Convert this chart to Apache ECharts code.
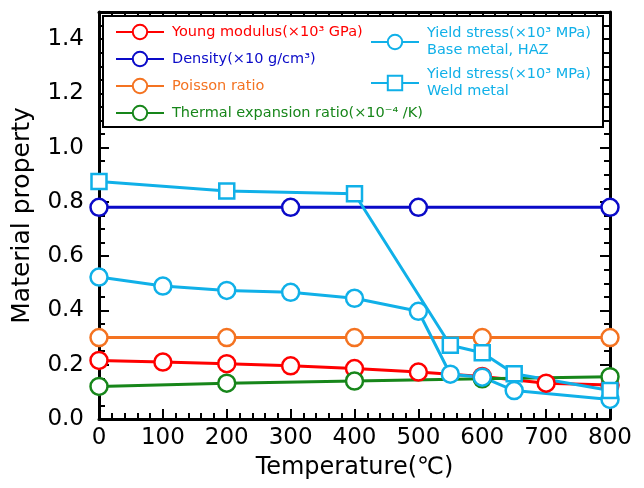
<!DOCTYPE html>
<html>
<head>
<meta charset="utf-8">
<script src="https://cdn.jsdelivr.net/npm/echarts@6/dist/echarts.min.js"></script>
<style>
  html, body { margin: 0; padding: 0; background: #fff; }
  #main { width: 644px; height: 488px; }
</style>
</head>
<body>
<div id="main"></div>
<script>
var myChart = echarts.init(document.getElementById('main'));

var FONT = '"DejaVu Sans", "Noto Sans CJK JP", sans-serif';

// temperatures (deg C) and values
var youngT = [0, 100, 200, 300, 400, 500, 600, 700, 800];
var youngV = [0.216, 0.21, 0.204, 0.196, 0.186, 0.173, 0.157, 0.132, 0.125];

var densityT = [0, 300, 500, 800];
var densityV = [0.78, 0.78, 0.78, 0.78];

var poissonT = [0, 200, 400, 600, 800];
var poissonV = [0.30, 0.30, 0.30, 0.30, 0.30];

var thermalT = [0, 200, 400, 600, 800];
var thermalV = [0.12, 0.132, 0.14, 0.148, 0.156];

var baseT = [0, 100, 200, 300, 400, 500, 550, 600, 650, 800];
var baseV = [0.523, 0.49, 0.474, 0.467, 0.445, 0.397, 0.165, 0.154, 0.105, 0.072];

var weldT = [0, 200, 400, 550, 600, 650, 800];
var weldV = [0.875, 0.84, 0.83, 0.272, 0.244, 0.167, 0.105];

var names = [
    'Young modulus(×10³ GPa)',
    'Density(×10 g/cm³)',
    'Poisson ratio',
    'Thermal expansion ratio(×10⁻⁴ /K)',
    'Yield stress(×10³ MPa)\nBase metal, HAZ',
    'Yield stress(×10³ MPa)\nWeld metal'
];
var colors = ['#ff0000', '#0a0ac8', '#f47321', '#17861a', '#10b0e8', '#10b0e8'];

function pairs(xs, ys) {
    return xs.map(function (x, i) { return [x, ys[i]]; });
}

function makeSeries(i, xs, ys, symbol, size) {
    return {
        name: names[i],
        type: 'line',
        data: pairs(xs, ys),
        symbol: symbol,
        symbolSize: size,
        showAllSymbol: true,
        color: colors[i],
        lineStyle: { width: 3, color: colors[i] },
        itemStyle: { color: '#fff', borderColor: colors[i], borderWidth: 2.5 },
        emphasis: { disabled: true },
        animation: false
    };
}

function axisCommon(split) {
    return {
        axisLine: { show: true, onZero: false, lineStyle: { color: '#000', width: 3 } },
        axisTick: { show: true, inside: true, length: 10, lineStyle: { color: '#000', width: 2 } },
        minorTick: { show: true, splitNumber: split, length: 6, lineStyle: { color: '#000', width: 2 } },
        splitLine: { show: false },
        minorSplitLine: { show: false }
    };
}

var xBottom = Object.assign(axisCommon(5), {
    type: 'value', position: 'bottom', min: 0, max: 800, interval: 100,
    name: 'Temperature(℃)', nameLocation: 'middle', nameGap: 37,
    nameTextStyle: { fontSize: 24, color: '#000', fontFamily: FONT },
    axisLabel: { fontSize: 23, color: '#000', margin: 8, fontFamily: FONT }
});

var xTop = Object.assign(axisCommon(5), {
    type: 'value', position: 'top', min: 0, max: 800, interval: 100,
    axisLabel: { show: false }
});

var yLeft = Object.assign(axisCommon(4), {
    type: 'value', position: 'left', min: 0, max: 1.5, interval: 0.2,
    name: 'Material property', nameLocation: 'middle', nameGap: 64,
    nameTextStyle: { fontSize: 25, color: '#000', fontFamily: FONT },
    axisLabel: {
        fontSize: 23, color: '#000', margin: 15, fontFamily: FONT, showMaxLabel: false,
        formatter: function (v) { return v.toFixed(1); }
    }
});

var yRight = Object.assign(axisCommon(4), {
    type: 'value', position: 'right', min: 0, max: 1.5, interval: 0.2,
    axisLabel: { show: false }
});

function legendItems(idx) {
    return idx.map(function (i) {
        return { name: names[i], textStyle: { color: colors[i] } };
    });
}

var option = {
    backgroundColor: '#fff',
    animation: false,
    grid: { left: 99, right: 34, top: 12, bottom: 69 },
    xAxis: [xBottom, xTop],
    yAxis: [yLeft, yRight],
    graphic: [{
        type: 'rect',
        shape: { x: 103, y: 16, width: 500, height: 111 },
        style: { fill: '#fff', stroke: '#000', lineWidth: 2 },
        z: 10
    }],
    legend: [{
        orient: 'vertical', left: 110, top: 18,
        itemWidth: 48, itemHeight: 18, itemGap: 9,
        data: legendItems([0, 1, 2, 3]),
        textStyle: { fontSize: 14.5, fontFamily: FONT, lineHeight: 18, padding: [0, 0, 0, 3] },
        z: 20
    }, {
        orient: 'vertical', left: 365, top: 20,
        itemWidth: 48, itemHeight: 18, itemGap: 7,
        data: legendItems([4, 5]),
        textStyle: { fontSize: 14.5, fontFamily: FONT, lineHeight: 17, padding: [0, 0, 0, 3] },
        z: 20
    }],
    series: [
        makeSeries(0, youngT, youngV, 'circle', 17),
        makeSeries(1, densityT, densityV, 'circle', 17),
        makeSeries(2, poissonT, poissonV, 'circle', 17),
        makeSeries(3, thermalT, thermalV, 'circle', 17),
        makeSeries(4, baseT, baseV, 'circle', 17),
        makeSeries(5, weldT, weldV, 'rect', 15)
    ]
};

myChart.setOption(option);
</script>
</body>
</html>
